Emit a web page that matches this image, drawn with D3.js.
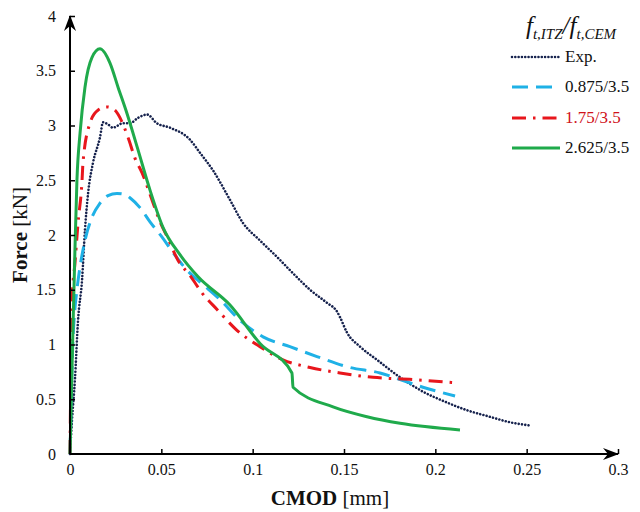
<!DOCTYPE html>
<html><head><meta charset="utf-8">
<script src="https://cdn.jsdelivr.net/npm/d3@7"></script>
<style>body{margin:0;background:#fff}svg{display:block}</style>
</head><body>
<svg id="c" width="640" height="512"></svg>
<script>
const xTicks = [0, 0.05, 0.1, 0.15, 0.2, 0.25, 0.3];
const yTicks = [0, 0.5, 1, 1.5, 2, 2.5, 3, 3.5, 4];
const seriesNames = ["Exp.", "0.875/3.5", "1.75/3.5", "2.625/3.5"];

const expCMOD = [0,0.0011,0.0027,0.0044,0.0066,0.0082,0.0099,0.0126,0.0164,0.0181,0.0208,0.0235,0.0263,0.0285,0.0328,0.0372,0.0422,0.0476,0.0547,0.0657,0.0712,0.0783,0.0876,0.0947,0.1040,0.1133,0.1221,0.1314,0.1407,0.1462,0.1478,0.1516,0.1588,0.1681,0.1807,0.1932,0.2064,0.2173,0.2299,0.2409,0.2518];
const expForce = [0,0.31,0.68,1.22,1.59,2.05,2.38,2.66,2.89,3.03,3.01,2.98,3.00,3.02,3.02,3.07,3.10,3.02,2.98,2.87,2.75,2.59,2.32,2.11,1.95,1.80,1.65,1.50,1.38,1.30,1.25,1.11,0.98,0.86,0.70,0.57,0.47,0.40,0.34,0.29,0.26];

const blueCMOD = [0,0.0016,0.0022,0.0038,0.0055,0.0082,0.0120,0.0164,0.0208,0.0257,0.0301,0.0328,0.0383,0.0438,0.0504,0.0564,0.0640,0.0712,0.0821,0.0931,0.1057,0.1204,0.1352,0.1533,0.1697,0.1807,0.1932,0.2108];
const blueForce = [0,1.04,1.22,1.50,1.71,1.95,2.16,2.29,2.36,2.38,2.37,2.34,2.25,2.12,1.98,1.84,1.68,1.57,1.41,1.22,1.07,0.98,0.89,0.79,0.74,0.68,0.61,0.53];

const redCMOD = [0,0.0011,0.0027,0.0044,0.0066,0.0071,0.0109,0.0153,0.0203,0.0246,0.0274,0.0318,0.0356,0.0394,0.0449,0.0493,0.0536,0.0591,0.0657,0.0723,0.0805,0.0914,0.1040,0.1166,0.1314,0.1478,0.1659,0.1878,0.2108];
const redForce = [0,1.41,1.74,2.11,2.50,2.66,3.02,3.14,3.17,3.14,3.07,2.89,2.70,2.57,2.32,2.12,1.97,1.77,1.63,1.47,1.32,1.13,0.98,0.86,0.79,0.74,0.70,0.68,0.65];

const greenCMOD = [0,0.0016,0.0027,0.0038,0.0055,0.0082,0.0120,0.0164,0.0219,0.0263,0.0312,0.0372,0.0438,0.0509,0.0602,0.0700,0.0876,0.1040,0.1215,0.1221,0.1440,0.1626,0.1807,0.2135];
const greenForce = [0,1.13,1.86,2.50,2.93,3.35,3.62,3.70,3.57,3.35,3.11,2.78,2.41,2.07,1.82,1.62,1.36,1.01,0.74,0.61,0.43,0.34,0.28,0.22];

const svg = d3.select("#c");
const x = d3.scaleLinear().domain([0, 0.3]).range([70, 618]);
const y = d3.scaleLinear().domain([0, 4]).range([454, 16]);
const serif = "'Liberation Serif', 'Times New Roman', serif";

const styles = [
  {color:"#16224d", width:2.6, dash:"0.01 3.3", cap:"round"},
  {color:"#1fb1e6", width:3, dash:"16 8", cap:"butt"},
  {color:"#e8161c", width:3, dash:"14 7 2.5 7", cap:"butt"},
  {color:"#1faa4b", width:3, dash:null, cap:"butt"}
];
const data = [
  d3.zip(expCMOD, expForce),
  d3.zip(blueCMOD, blueForce),
  d3.zip(redCMOD, redForce),
  d3.zip(greenCMOD, greenForce)
];

const defs = svg.append("defs");
defs.append("marker").attr("id","arr").attr("viewBox","0 0 16 12").attr("refX",15).attr("refY",6)
  .attr("markerWidth",16).attr("markerHeight",12).attr("markerUnits","userSpaceOnUse").attr("orient","auto")
  .append("path").attr("d","M0,0 L16,6 L0,12 L5,6 Z").attr("fill","#000");

const line = d3.line().x(d=>x(d[0])).y(d=>y(d[1])).curve(d3.curveMonotoneX);

[0,1,2,3].forEach(i=>{
  svg.append("path").datum(data[i]).attr("d", line)
    .attr("fill","none").attr("stroke",styles[i].color).attr("stroke-width",styles[i].width)
    .attr("stroke-dasharray",styles[i].dash).attr("stroke-linecap",styles[i].cap).attr("stroke-linejoin","round");
});

const xAxis = d3.axisBottom(x).tickValues(xTicks).tickSize(-5).tickPadding(10).tickFormat(d=>d===0?"0":String(d));
const gx = svg.append("g").attr("transform",`translate(0,${y(0)})`).call(xAxis);
const yAxis = d3.axisLeft(y).tickValues(yTicks).tickSize(-5).tickPadding(14).tickFormat(d=>String(d));
const gy = svg.append("g").attr("transform",`translate(${x(0)},0)`).call(yAxis);
[gx,gy].forEach(g=>{
  g.select(".domain").remove();
  g.selectAll(".tick line").attr("stroke","#000").attr("stroke-width",1.5);
  g.selectAll("text").attr("font-family",serif).attr("font-size",16).attr("fill","#111");
});
gx.selectAll(".tick").filter(d=>d===0).select("line").remove();
gy.selectAll(".tick").filter(d=>d===0).select("line").remove();
svg.append("line").attr("x1",x(0)).attr("y1",y(0)).attr("x2",x(0.3)).attr("y2",y(0))
  .attr("stroke","#000").attr("stroke-width",2).attr("marker-end","url(#arr)");
svg.append("line").attr("x1",x(0)).attr("y1",y(0)).attr("x2",x(0)).attr("y2",y(4))
  .attr("stroke","#000").attr("stroke-width",2).attr("marker-end","url(#arr)");

const xt = svg.append("text").attr("x",330).attr("y",505).attr("text-anchor","middle")
  .attr("font-family",serif).attr("font-size",21).attr("fill","#111");
xt.append("tspan").attr("font-weight","bold").text("CMOD");
xt.append("tspan").text(" [mm]");
const yt = svg.append("text").attr("transform","translate(27,235) rotate(-90)").attr("text-anchor","middle")
  .attr("font-family",serif).attr("font-size",21).attr("fill","#111");
yt.append("tspan").attr("font-weight","bold").text("Force");
yt.append("tspan").text(" [kN]");

const lg = svg.append("g");
const title = lg.append("text").attr("x",526).attr("y",34).attr("font-family",serif).attr("font-style","italic")
  .attr("font-size",25).attr("fill","#111");
title.append("tspan").text("f");
title.append("tspan").attr("font-size",15).attr("dy",5).text("t,ITZ");
title.append("tspan").attr("dy",-5).text("/f");
title.append("tspan").attr("font-size",15).attr("dy",5).text("t,CEM");
const legY = [57, 87, 118, 148];
seriesNames.forEach((n,i)=>{
  lg.append("line").attr("x1",512).attr("x2",560).attr("y1",legY[i]).attr("y2",legY[i])
    .attr("stroke",styles[i].color).attr("stroke-width",styles[i].width).attr("stroke-dasharray",styles[i].dash)
    .attr("stroke-linecap",styles[i].cap);
  lg.append("text").attr("x",565).attr("y",legY[i]+5).attr("font-family",serif).attr("font-size",17)
    .attr("fill", i===2 ? "#d0121a" : "#111").text(n);
});
</script>
</body></html>
